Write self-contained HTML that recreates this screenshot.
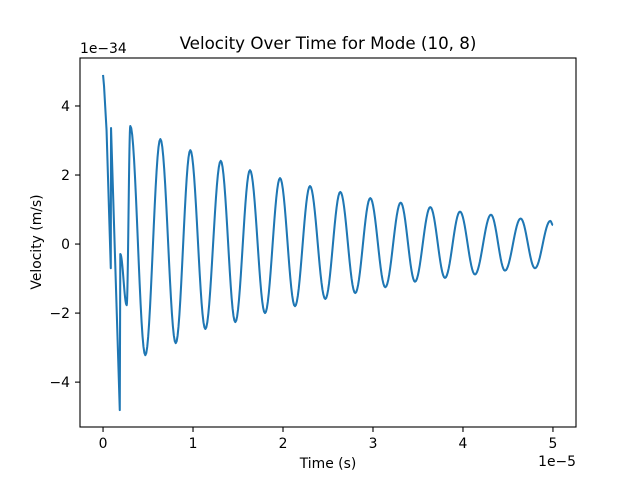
<!DOCTYPE html>
<html><head><meta charset="utf-8"><style>
body{margin:0;background:#fff}
svg text{font-family:"DejaVu Sans","Liberation Sans",sans-serif;fill:#000}
</style></head><body>
<svg id="chart" width="640" height="480" viewBox="0 0 640 480" xmlns="http://www.w3.org/2000/svg">
<rect x="0" y="0" width="640" height="480" fill="#fff"/>
<text x="328" y="49" font-size="16.7" text-anchor="middle">Velocity Over Time for Mode (10, 8)</text>
<text x="328" y="468" font-size="13.9" text-anchor="middle">Time (s)</text>
<text x="0" y="0" font-size="13.9" text-anchor="middle" transform="translate(41,242) rotate(-90)">Velocity (m/s)</text>
<text x="80" y="53" font-size="13.9">1e−34</text>
<text x="576" y="466" font-size="13.9" text-anchor="end">1e−5</text>
<g id="ticks"></g>
<path id="line" fill="none" stroke="#1f77b4" stroke-width="2.05" stroke-linejoin="round"/>
<rect x="80" y="58" width="496" height="369" fill="none" stroke="#000" stroke-width="1.1"/>
</svg>
<script>
const times = [0,0.011,0.039,0.086,0.089,0.186,0.192,0.263,0.303,0.47,0.637,0.808,0.97,1.137,1.308,1.47,1.633,1.8,1.967,2.133,2.3,2.47,2.637,2.803,2.97,3.137,3.308,3.467,3.637,3.8,3.967,4.133,4.311,4.467,4.641,4.8,4.97,5.0];
const velocities = [4.9,4.58,3.3,-0.7,3.36,-4.81,-0.29,-1.77,3.42,-3.22,3.04,-2.87,2.72,-2.46,2.41,-2.26,2.14,-2.0,1.91,-1.8,1.68,-1.59,1.51,-1.42,1.33,-1.25,1.2,-1.09,1.07,-0.98,0.94,-0.88,0.85,-0.77,0.74,-0.7,0.67,0.55];
const segKinds = ['l','l','l','l','l','l','c','c','c','c','c','c','c','c','c','c','c','c','c','c','c','c','c','c','c','c','c','c','c','c','c','c','c','c','c','c','c'];
const xTicks = [0,1,2,3,4,5];
const yTicks = [-4,-2,0,2,4];
const xMin=-0.256,xMax=5.256,yMin=-5.30,yMax=5.39;
const L=80,R=576,T=58,B=427;
function sx(t){return L+(t-xMin)/(xMax-xMin)*(R-L);}
function sy(v){return B-(v-yMin)/(yMax-yMin)*(B-T);}
let d='M'+sx(times[0]).toFixed(2)+','+sy(velocities[0]).toFixed(2);
for(let i=1;i<times.length;i++){
  const t0=times[i-1],t1=times[i],v0=velocities[i-1],v1=velocities[i];
  if(segKinds[i-1]==='l'){d+='L'+sx(t1).toFixed(2)+','+sy(v1).toFixed(2);continue;}
  const n=16;
  for(let k=1;k<=n;k++){
    const f=k/n,t=t0+(t1-t0)*f,v=v0+(v1-v0)*(1-Math.cos(Math.PI*f))/2;
    d+='L'+sx(t).toFixed(2)+','+sy(v).toFixed(2);
  }
}
document.getElementById('line').setAttribute('d',d);
const g=document.getElementById('ticks');
const ns='http://www.w3.org/2000/svg';
xTicks.forEach(t=>{
  const x=sx(t);
  const ln=document.createElementNS(ns,'line');
  ln.setAttribute('x1',x);ln.setAttribute('x2',x);ln.setAttribute('y1',B);ln.setAttribute('y2',B+5);
  ln.setAttribute('stroke','#000');ln.setAttribute('stroke-width','1.1');
  
  
  g.appendChild(ln);
  const tx=document.createElementNS(ns,'text');
  tx.setAttribute('x',x);tx.setAttribute('y',448);tx.setAttribute('font-size','13.9');tx.setAttribute('text-anchor','middle');
  tx.textContent=String(t);
  
  
  g.appendChild(tx);
});
yTicks.forEach(v=>{
  const y=sy(v);
  const ln=document.createElementNS(ns,'line');
  ln.setAttribute('x1',L-5);ln.setAttribute('x2',L);ln.setAttribute('y1',y);ln.setAttribute('y2',y);
  ln.setAttribute('stroke','#000');ln.setAttribute('stroke-width','1.1');
  
  
  g.appendChild(ln);
  const tx=document.createElementNS(ns,'text');
  tx.setAttribute('x',L-10);tx.setAttribute('y',y+5);tx.setAttribute('font-size','13.9');tx.setAttribute('text-anchor','end');
  tx.textContent=v<0?'−'+Math.abs(v):String(v);
  
  
  g.appendChild(tx);
});
</script>
</body></html>
